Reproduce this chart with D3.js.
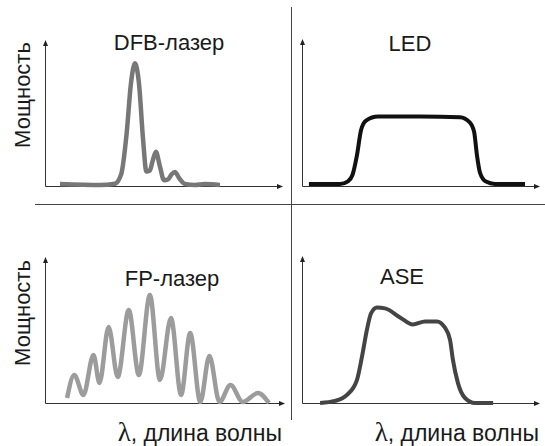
<!DOCTYPE html>
<html>
<head>
<meta charset="utf-8">
<script src="https://cdn.jsdelivr.net/npm/d3@7"></script>
<style>
  html, body { margin: 0; padding: 0; background: #fff; }
  svg { display: block; }
  text { font-family: Arial, "Liberation Sans", sans-serif; fill: #1a1a1a; }
</style>
</head>
<body>
<svg id="chart" width="545" height="446"></svg>
<script>
// Spectral shapes of four light sources, (wavelength, power) in relative units 0..100
const dfbSpectrum = [
  [6.3, 1.4], [23.1, 0.7], [29.4, 1.6], [32.0, 8], [34.3, 36], [36.1, 70], [37.8, 84],
  [39.5, 70], [41.2, 32], [42.6, 10], [44.0, 10.5], [45.2, 17], [46.6, 23.5], [48.2, 14],
  [50.0, 4.0], [51.7, 4.5], [53.2, 8], [54.6, 9.6], [56.3, 5.5], [58.8, 1.4], [63, 0.7],
  [67.2, 1.4], [73.5, 0.7]
];
const ledSpectrum = [
  [2.9, 1.4], [16, 1.4], [19.3, 3.2], [21.2, 7.5], [23.1, 21], [24.8, 38], [26.9, 44.5],
  [31.9, 47.3], [49.6, 47.3], [66.4, 46.8], [70.4, 43.5], [72.3, 37], [73.5, 21], [74.8, 9],
  [77.3, 3.0], [81, 1.4], [93.7, 1.4]
];
const fpSpectrum = [
  [9.2, 3.4], [12.2, 19.2], [16, 5.5], [20.2, 32.9], [22.7, 13.7], [26.5, 52], [30.3, 17.8],
  [34.9, 63.7], [39.1, 19.2], [43.7, 74], [47.9, 15.8], [52.5, 58.2], [56.7, 5.5], [60.5, 48],
  [64.7, 0.7], [68.5, 32.2], [72.7, 0.7], [77.3, 12.3], [82.4, 0.7], [88.7, 6.8], [93.3, 0]
];
const aseSpectrum = [
  [7.6, 0], [13.9, 1.4], [18.9, 5.5], [23.1, 15.8], [25.2, 31.5], [27.3, 50], [29, 61],
  [31.5, 65], [34.9, 64.4], [41.2, 58.2], [46.6, 53.4], [51.7, 55.5], [56.7, 55.5], [60, 51.4],
  [62.2, 43], [63.4, 29.5], [65.5, 13.7], [68.5, 3.4], [72.7, 0], [80.3, 0]
];

const panelTitles = ["DFB-лазер", "LED", "FP-лазер", "ASE"];
const yAxisLabel = "Мощность";
const xAxisSymbol = "λ";
const xAxisLabel = ", длина волны";

const svg = d3.select("#chart");

// Panel frames: origin of axes, axis lengths, title placement
const panels = [
  { data: dfbSpectrum, title: panelTitles[0], ox: 45,  oy: 186, w: 238, h: 146, color: "#777777", sw: 4.5, tx: 169, ty: 50 },
  { data: ledSpectrum, title: panelTitles[1], ox: 302, oy: 186, w: 238, h: 147, color: "#111111", sw: 4,   tx: 410, ty: 51 },
  { data: fpSpectrum,  title: panelTitles[2], ox: 45,  oy: 403, w: 240, h: 146, color: "#9c9c9c", sw: 4.5, tx: 172, ty: 286 },
  { data: aseSpectrum, title: panelTitles[3], ox: 302, oy: 403, w: 238, h: 147, color: "#444444", sw: 4,   tx: 402, ty: 284 }
];

// Quadrant separators
svg.append("line").attr("x1", 35).attr("x2", 545).attr("y1", 204.5).attr("y2", 204.5)
  .attr("stroke", "#444").attr("stroke-width", 1);
svg.append("line").attr("x1", 291.5).attr("x2", 291.5).attr("y1", 7).attr("y2", 420)
  .attr("stroke", "#444").attr("stroke-width", 1);

panels.forEach(p => {
  const x = d3.scaleLinear().domain([0, 100]).range([p.ox, p.ox + p.w]);
  const y = d3.scaleLinear().domain([0, 100]).range([p.oy, p.oy - p.h]);
  const g = svg.append("g");

  // axes with arrowheads
  const ax = x(0) + 0.5, ay = y(0) + 0.5, xEnd = x(100), yTop = y(100);
  g.append("line").attr("x1", ax).attr("y1", ay).attr("x2", xEnd - 4).attr("y2", ay)
    .attr("stroke", "#333").attr("stroke-width", 1);
  g.append("line").attr("x1", ax).attr("y1", ay).attr("x2", ax).attr("y2", yTop + 4)
    .attr("stroke", "#333").attr("stroke-width", 1);
  g.append("path").attr("d", `M${xEnd},${ay} L${xEnd - 6},${ay - 2.5} L${xEnd - 6},${ay + 2.5} Z`).attr("fill", "#222");
  g.append("path").attr("d", `M${ax},${yTop} L${ax - 2.5},${yTop + 6} L${ax + 2.5},${yTop + 6} Z`).attr("fill", "#222");

  // spectrum curve
  const line = d3.line().x(d => x(d[0])).y(d => y(d[1])).curve(d3.curveMonotoneX);
  g.append("path").datum(p.data).attr("d", line)
    .attr("fill", "none").attr("stroke", p.color).attr("stroke-width", p.sw)
    .attr("stroke-linejoin", "round");

  g.append("text").attr("x", p.tx).attr("y", p.ty).attr("text-anchor", "middle")
    .attr("font-size", 22).text(p.title);
});

// Axis labels
[95, 313].forEach(cy => {
  svg.append("text").attr("transform", `translate(30,${cy}) rotate(-90)`)
    .attr("text-anchor", "middle").attr("font-size", 22).text(yAxisLabel);
});
[282, 539].forEach(xr => {
  const t = svg.append("text").attr("x", xr).attr("y", 441).attr("text-anchor", "end")
    .attr("font-size", 23);
  t.append("tspan").attr("font-family", "'Liberation Serif', 'DejaVu Serif', serif")
    .attr("font-size", 27).text(xAxisSymbol);
  t.append("tspan").text(xAxisLabel);
});
</script>
</body>
</html>
